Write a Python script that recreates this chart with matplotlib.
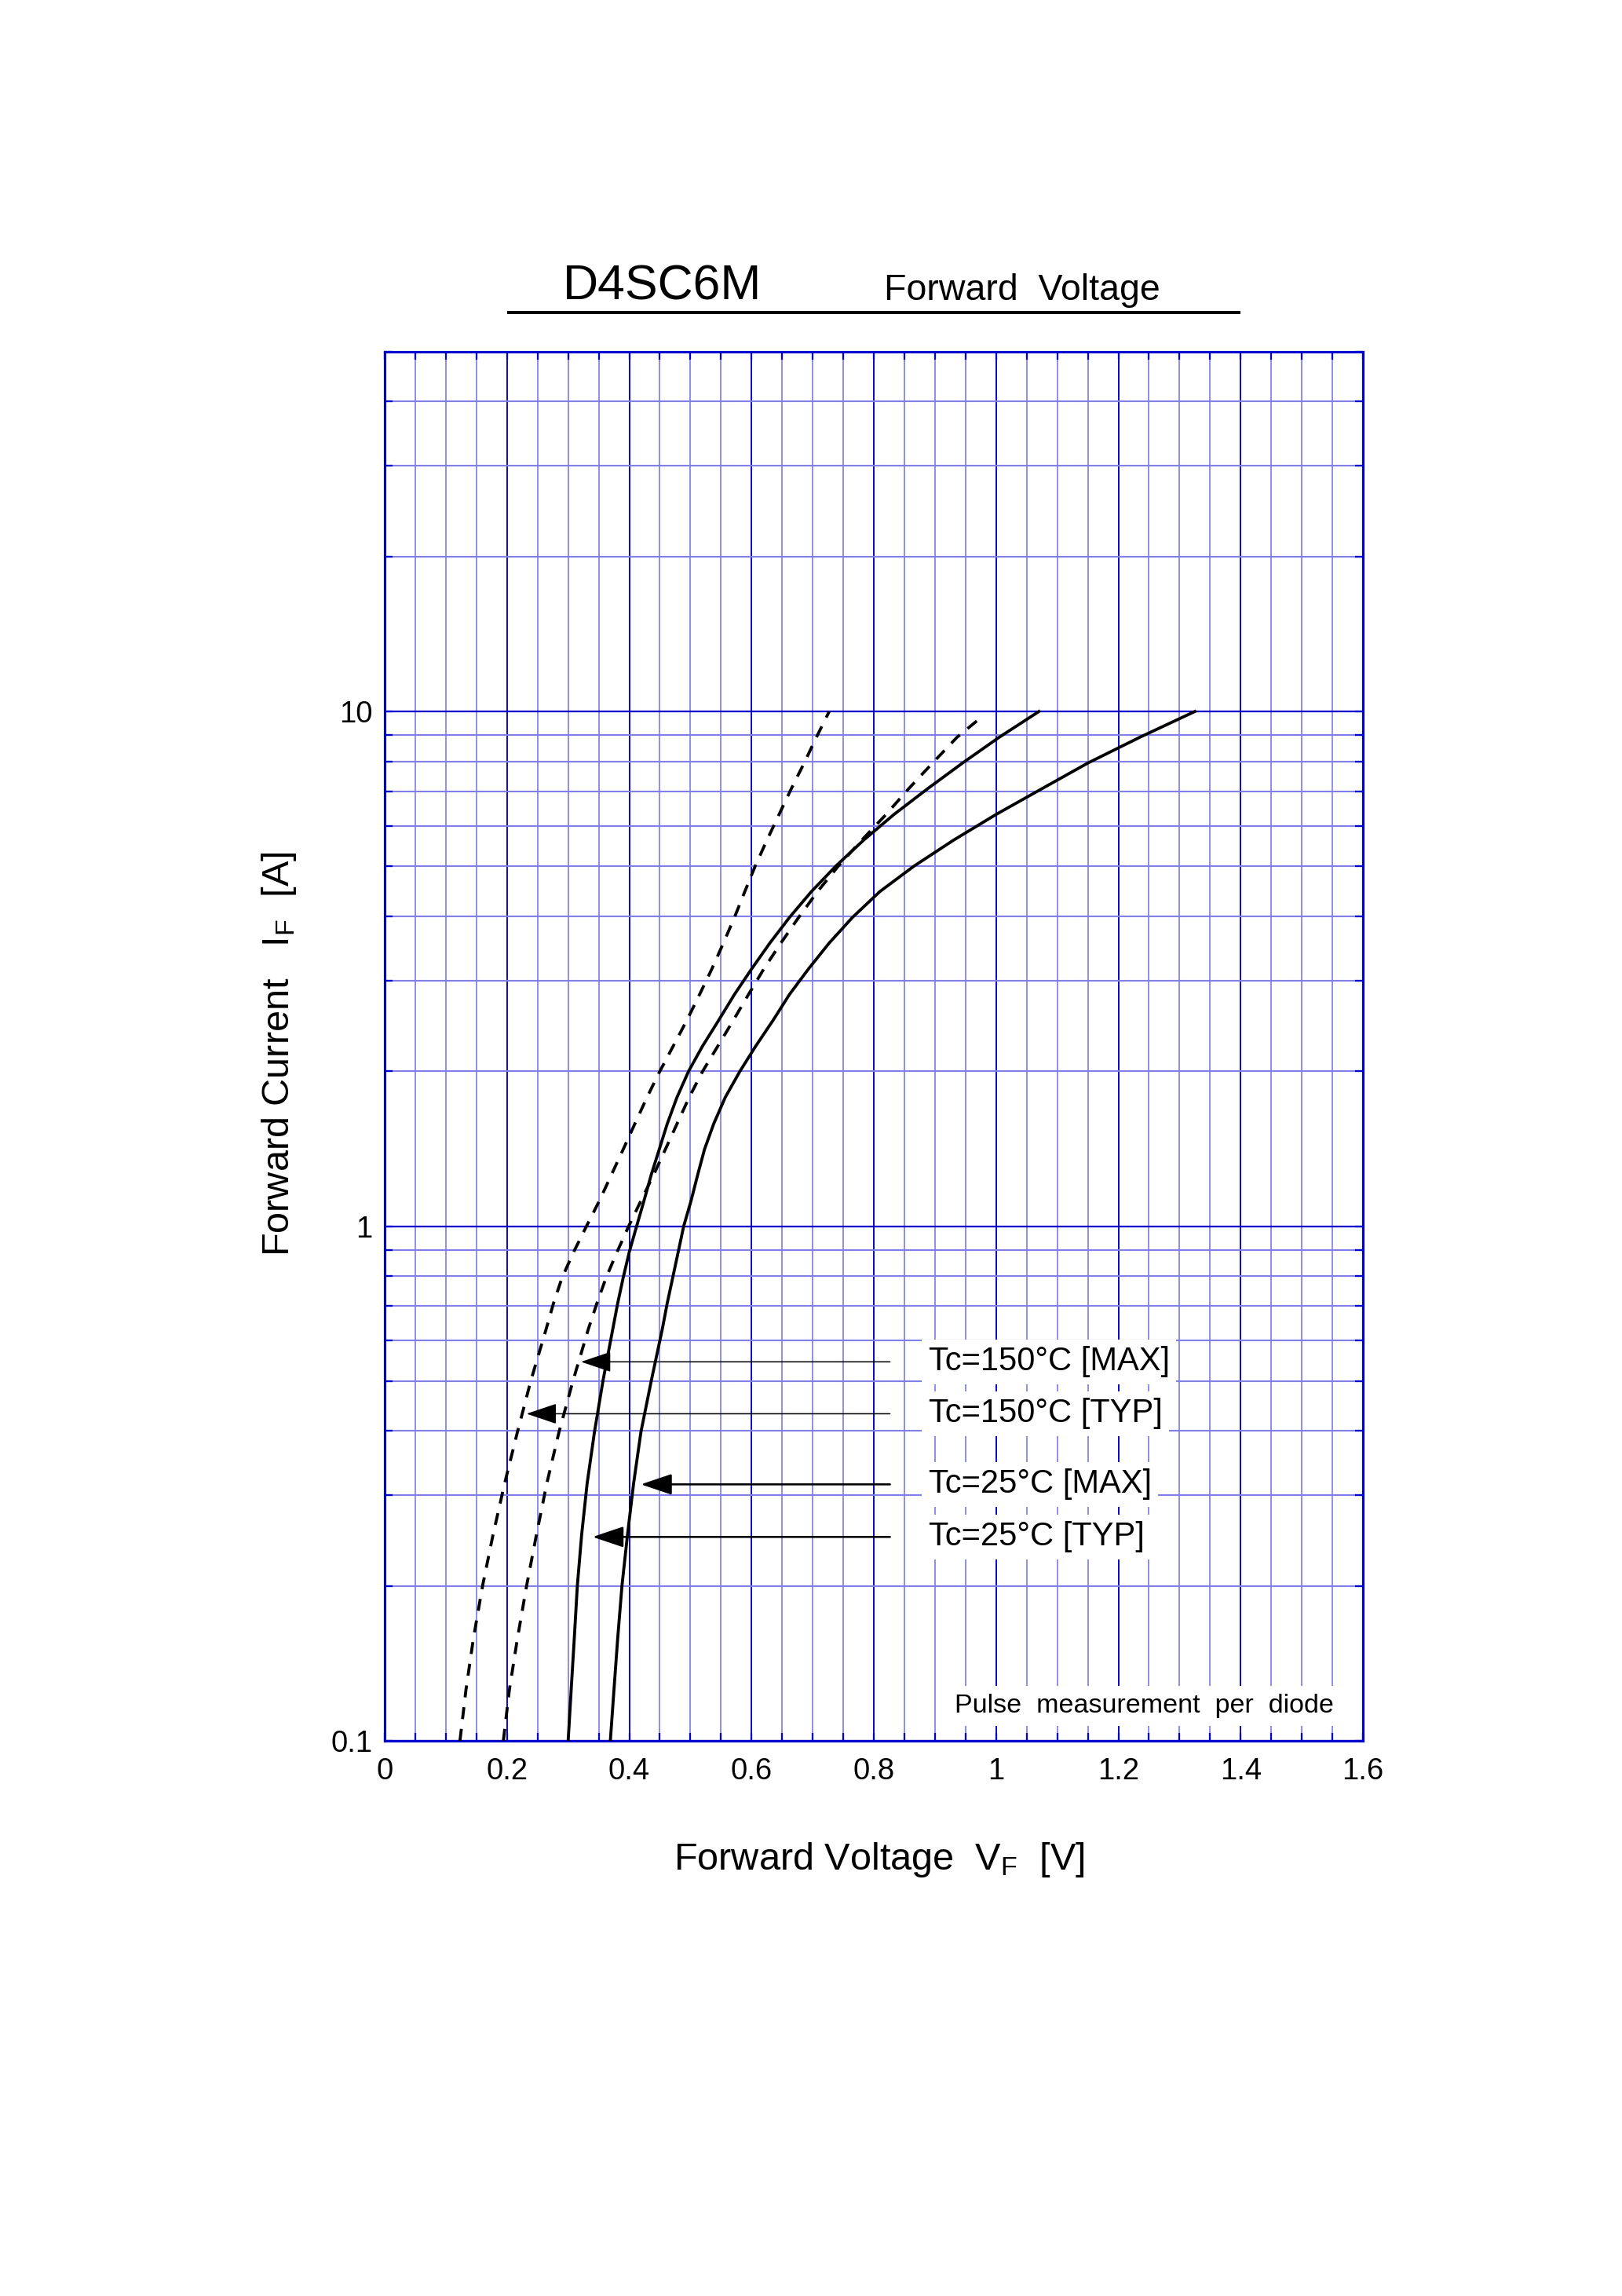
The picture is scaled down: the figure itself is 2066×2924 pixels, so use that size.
import matplotlib
matplotlib.use("Agg")
import matplotlib.pyplot as plt
from matplotlib.lines import Line2D
from matplotlib.ticker import FixedLocator, MultipleLocator, FuncFormatter

plt.rcParams['font.family'] = ['Liberation Sans', 'DejaVu Sans']

# forward current [A] (shared steps) and the voltage [V]
i_steps = [0.1, 0.126, 0.158, 0.2, 0.251, 0.316, 0.398, 0.501, 0.631, 0.708,
           0.794, 0.891, 1.0, 1.12, 1.26, 1.41, 1.58, 1.78, 2.0, 2.24,
           2.51, 2.82, 3.16, 3.55, 3.98, 4.47, 5.01, 5.62, 6.31, 7.08,
           7.94, 8.91, 10.0]

v_150_typ = [0.123, 0.133, 0.145, 0.160, 0.177, 0.196, 0.217, 0.239, 0.264, 0.276,
             0.290, 0.309, 0.330, 0.351, 0.371, 0.390, 0.409, 0.429, 0.450, 0.472,
             0.494, 0.515, 0.535, 0.554, 0.572, 0.589, 0.606, 0.625, 0.645, 0.665,
             0.686, 0.706, 0.727]
v_150_max = [0.194, 0.204, 0.217, 0.232, 0.248, 0.265, 0.285, 0.308, 0.333, 0.347,
             0.362, 0.380, 0.399, 0.419, 0.440, 0.459, 0.478, 0.498, 0.520, 0.545,
             0.570, 0.595, 0.620, 0.648, 0.677, 0.708, 0.742, 0.780, 0.820, 0.857,
             0.896, 0.936]
v_25_typ = [0.300, 0.305, 0.310, 0.315, 0.322, 0.331, 0.343, 0.357, 0.373, 0.381,
            0.390, 0.400, 0.412, 0.424, 0.436, 0.449, 0.462, 0.478, 0.497, 0.520,
            0.546, 0.572, 0.600, 0.630, 0.662, 0.698, 0.738, 0.783, 0.833, 0.888,
            0.945, 1.005, 1.070]
v_25_max = [0.369, 0.375, 0.381, 0.388, 0.397, 0.407, 0.419, 0.436, 0.454, 0.462,
            0.471, 0.480, 0.489, 0.501, 0.512, 0.523, 0.538, 0.557, 0.581, 0.607,
            0.635, 0.662, 0.693, 0.727, 0.765, 0.810, 0.866, 0.930, 1.000, 1.075,
            1.150, 1.235, 1.325]
# 150 degC MAX stops just below 10 A
v_150_max_end = 0.970
i_150_max_end = 9.62

# labels, arrow height and arrow tip voltage
labels = ['Tc=150°C [MAX]', 'Tc=150°C [TYP]', 'Tc=25°C [MAX]', 'Tc=25°C [TYP]']
label_i = [0.545, 0.432, 0.315, 0.249]
tip_v = [0.321, 0.232, 0.419, 0.340]
arrow_lw = [0.45, 0.45, 0.75, 0.75]

y_major = [0.1, 1, 10]
y_minor = [0.2, 0.3, 0.4, 0.5, 0.6, 0.7, 0.8, 0.9,
           2, 3, 4, 5, 6, 7, 8, 9, 20, 30, 40, 50]

DARK = '#0000cc'
LIGHT = '#8080e8'

fig = plt.figure(figsize=(8.264, 11.696), dpi=250)
ax = fig.add_axes([0.2372, 0.2418, 0.6031, 0.6050])

ax.set_yscale('log')
ax.set_xlim(0, 1.6)
ax.set_ylim(0.1, 50)

ax.xaxis.set_major_locator(MultipleLocator(0.2))
ax.xaxis.set_minor_locator(MultipleLocator(0.05))
ax.yaxis.set_major_locator(FixedLocator(y_major))
ax.yaxis.set_minor_locator(FixedLocator(y_minor))
ax.xaxis.set_major_formatter(FuncFormatter(lambda v, p: '%g' % round(v, 2)))
ax.yaxis.set_major_formatter(FuncFormatter(lambda v, p: '%g' % v))
ax.yaxis.set_minor_formatter(FuncFormatter(lambda v, p: ''))

ax.set_axisbelow(True)
ax.grid(which='major', axis='x', color=DARK, lw=0.55)
ax.grid(which='minor', axis='x', color=LIGHT, lw=0.5)
ax.grid(which='major', axis='y', color=DARK, lw=0.65)
ax.grid(which='minor', axis='y', color=LIGHT, lw=0.62)

ax.tick_params(which='both', direction='in', top=True, right=True,
               color=DARK, length=3, width=0.65, labelsize=11)
ax.tick_params(axis='x', pad=6)
ax.tick_params(axis='y', pad=4.5)
for s in ax.spines.values():
    s.set_color(DARK)
    s.set_linewidth(0.9)

dash = (4, 3.3)
ax.plot(v_150_typ, i_steps, color='k', lw=1.1, dashes=dash, zorder=3)
ax.plot(v_150_max + [v_150_max_end], i_steps[:-1] + [i_150_max_end],
        color='k', lw=1.1, dashes=dash, zorder=3)
ax.plot(v_25_typ, i_steps, color='k', lw=1.1, zorder=3)
ax.plot(v_25_max, i_steps, color='k', lw=1.1, zorder=3)

for lab, yy, tv, lw in zip(labels, label_i, tip_v, arrow_lw):
    ax.annotate('', xy=(tv, yy), xytext=(0.8264, yy),
                arrowprops=dict(arrowstyle='-|>,head_length=0.4,head_width=0.135',
                                mutation_scale=24.5, color='k', lw=lw,
                                shrinkA=0, shrinkB=0), zorder=4)
    ax.text(0.8895, yy, lab, fontsize=12, ha='left', va='center', zorder=5,
            bbox=dict(boxstyle='square,pad=0.2', fc='white', ec='none'))

ax.text(0.932, 0.117, 'Pulse  measurement  per  diode', fontsize=9.8,
        ha='left', va='center', zorder=5,
        bbox=dict(boxstyle='square,pad=0.3', fc='white', ec='none'))

# title block
fig.text(0.347, 0.8694, 'D4SC6M', fontsize=18.0, va='baseline')
fig.text(0.545, 0.8694, 'Forward  Voltage', fontsize=13.4, va='baseline')
fig.add_artist(Line2D([0.3127, 0.765], [0.8639, 0.8639], lw=1.15, color='k',
                      solid_capstyle='butt'))

# axis titles
fig.text(0.542, 0.1857, r'Forward Voltage  $\mathregular{V_F}$  [V]', fontsize=14,
         ha='center', va='baseline')
fig.text(0.1781, 0.541, r'Forward Current   $\mathregular{I_F}$  [A]', fontsize=14,
         ha='center', va='baseline', rotation=90, rotation_mode='anchor')

fig.savefig('out.png', dpi=250)
